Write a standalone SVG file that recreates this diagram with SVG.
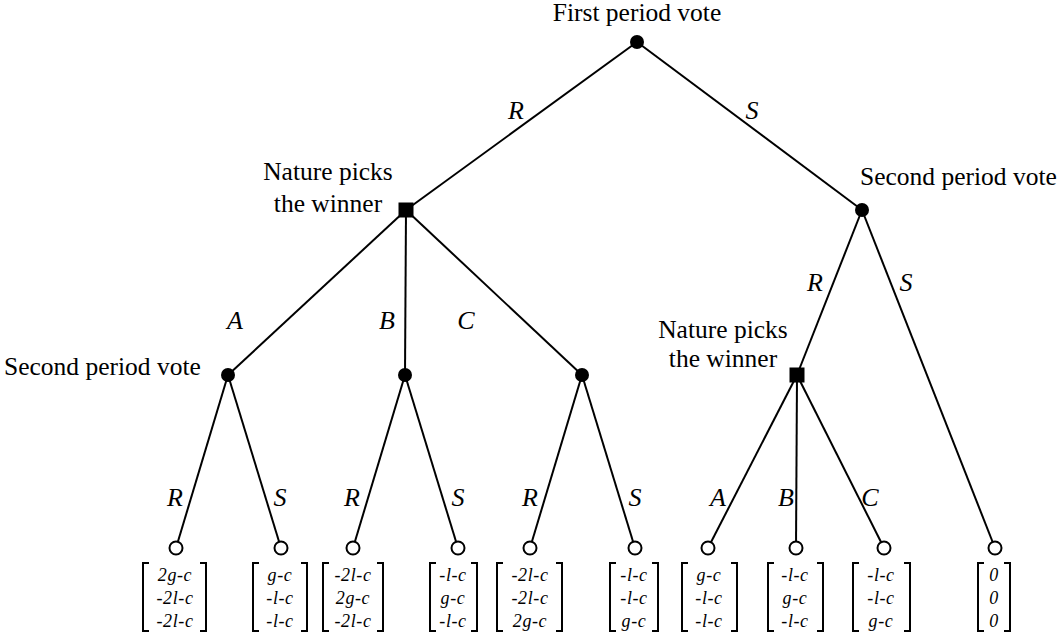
<svg xmlns="http://www.w3.org/2000/svg" width="1061" height="639" viewBox="0 0 1061 639">
<style>
.e{stroke:#000;stroke-width:2;fill:none}
.dec{fill:#000}
.leaf{fill:#fff;stroke:#000;stroke-width:2}
.lbl{font-family:"Liberation Serif","Times New Roman",serif;font-size:25.5px;fill:#000}
.el{font-family:"Liberation Serif","Times New Roman",serif;font-style:italic;font-size:26px;fill:#000;text-anchor:middle}
.pay{font-family:"Liberation Serif","Times New Roman",serif;font-style:italic;font-size:18px;letter-spacing:0.6px;fill:#000;text-anchor:middle}
.br{stroke:#000;stroke-width:2;fill:none}
</style>
<rect width="1061" height="639" fill="#fff"/>
<g id="connectors">
<line class="e" x1="637" y1="42" x2="406" y2="210"/>
<line class="e" x1="637" y1="42" x2="862" y2="210"/>
<line class="e" x1="406" y1="210" x2="228" y2="375"/>
<line class="e" x1="406" y1="210" x2="405" y2="375"/>
<line class="e" x1="406" y1="210" x2="582" y2="375"/>
<line class="e" x1="862" y1="210" x2="797" y2="375"/>
<line class="e" x1="862" y1="210" x2="995" y2="548"/>
<line class="e" x1="228" y1="375" x2="176" y2="548"/>
<line class="e" x1="228" y1="375" x2="281" y2="548"/>
<line class="e" x1="405" y1="375" x2="353" y2="548"/>
<line class="e" x1="405" y1="375" x2="458" y2="548"/>
<line class="e" x1="582" y1="375" x2="530" y2="548"/>
<line class="e" x1="582" y1="375" x2="635" y2="548"/>
<line class="e" x1="797" y1="375" x2="708" y2="548"/>
<line class="e" x1="797" y1="375" x2="796" y2="548"/>
<line class="e" x1="797" y1="375" x2="884" y2="548"/>
<text class="el" x="516" y="119">R</text>
<text class="el" x="752" y="119">S</text>
<text class="el" x="235" y="329">A</text>
<text class="el" x="387" y="329">B</text>
<text class="el" x="466" y="329">C</text>
<text class="el" x="815" y="291">R</text>
<text class="el" x="906" y="291">S</text>
<text class="el" x="175" y="506">R</text>
<text class="el" x="280" y="506">S</text>
<text class="el" x="352" y="506">R</text>
<text class="el" x="458" y="506">S</text>
<text class="el" x="530" y="506">R</text>
<text class="el" x="635" y="506">S</text>
<text class="el" x="718" y="506">A</text>
<text class="el" x="786" y="506">B</text>
<text class="el" x="870" y="506">C</text>
</g>
<g id="n-root"><circle class="dec" cx="637" cy="42" r="7"/><text class="lbl" x="637" y="21" text-anchor="middle">First period vote</text></g>
<g id="n-nature1"><rect class="dec" x="398.5" y="202.5" width="15" height="15"/><text class="lbl" x="328" y="180" text-anchor="middle">Nature picks</text><text class="lbl" x="328" y="212" text-anchor="middle">the winner</text></g>
<g id="n-vote-right"><circle class="dec" cx="862" cy="210" r="7"/><text class="lbl" x="860" y="185">Second period vote</text></g>
<g id="n-vote-A"><circle class="dec" cx="228" cy="375" r="7"/><text class="lbl" x="4" y="375">Second period vote</text></g>
<g id="n-vote-B"><circle class="dec" cx="405" cy="375" r="7"/></g>
<g id="n-vote-C"><circle class="dec" cx="582" cy="375" r="7"/></g>
<g id="n-nature2"><rect class="dec" x="789.5" y="367.5" width="15" height="15"/><text class="lbl" x="723" y="338" text-anchor="middle">Nature picks</text><text class="lbl" x="723" y="367" text-anchor="middle">the winner</text></g>
<g id="leaf1"><circle class="leaf" cx="176" cy="548" r="6.5"/><path class="br" d="M149 563H143V631H149M200 563H206V631H200"/><text class="pay" x="175" y="581">2g-c</text><text class="pay" x="175" y="604">-2l-c</text><text class="pay" x="175" y="627">-2l-c</text></g>
<g id="leaf2"><circle class="leaf" cx="281" cy="548" r="6.5"/><path class="br" d="M259 563H253V631H259M301 563H307V631H301"/><text class="pay" x="280" y="581">g-c</text><text class="pay" x="280" y="604">-l-c</text><text class="pay" x="280" y="627">-l-c</text></g>
<g id="leaf3"><circle class="leaf" cx="353" cy="548" r="6.5"/><path class="br" d="M329 563H323V631H329M377 563H383V631H377"/><text class="pay" x="353" y="581">-2l-c</text><text class="pay" x="353" y="604">2g-c</text><text class="pay" x="353" y="627">-2l-c</text></g>
<g id="leaf4"><circle class="leaf" cx="458" cy="548" r="6.5"/><path class="br" d="M436 563H430V631H436M471 563H477V631H471"/><text class="pay" x="453" y="581">-l-c</text><text class="pay" x="453" y="604">g-c</text><text class="pay" x="453" y="627">-l-c</text></g>
<g id="leaf5"><circle class="leaf" cx="530" cy="548" r="6.5"/><path class="br" d="M503 563H497V631H503M556 563H562V631H556"/><text class="pay" x="530" y="581">-2l-c</text><text class="pay" x="530" y="604">-2l-c</text><text class="pay" x="530" y="627">2g-c</text></g>
<g id="leaf6"><circle class="leaf" cx="635" cy="548" r="6.5"/><path class="br" d="M616 563H610V631H616M652 563H658V631H652"/><text class="pay" x="634" y="581">-l-c</text><text class="pay" x="634" y="604">-l-c</text><text class="pay" x="634" y="627">g-c</text></g>
<g id="leaf7"><circle class="leaf" cx="708" cy="548" r="6.5"/><path class="br" d="M688 563H682V631H688M731 563H737V631H731"/><text class="pay" x="709" y="581">g-c</text><text class="pay" x="709" y="604">-l-c</text><text class="pay" x="709" y="627">-l-c</text></g>
<g id="leaf8"><circle class="leaf" cx="796" cy="548" r="6.5"/><path class="br" d="M774 563H768V631H774M817 563H823V631H817"/><text class="pay" x="795" y="581">-l-c</text><text class="pay" x="795" y="604">g-c</text><text class="pay" x="795" y="627">-l-c</text></g>
<g id="leaf9"><circle class="leaf" cx="884" cy="548" r="6.5"/><path class="br" d="M859 563H853V631H859M904 563H910V631H904"/><text class="pay" x="881" y="581">-l-c</text><text class="pay" x="881" y="604">-l-c</text><text class="pay" x="881" y="627">g-c</text></g>
<g id="leaf10"><circle class="leaf" cx="995" cy="548" r="6.5"/><path class="br" d="M984 563H978V631H984M1004 563H1010V631H1004"/><text class="pay" x="994" y="581">0</text><text class="pay" x="994" y="604">0</text><text class="pay" x="994" y="627">0</text></g>
</svg>
